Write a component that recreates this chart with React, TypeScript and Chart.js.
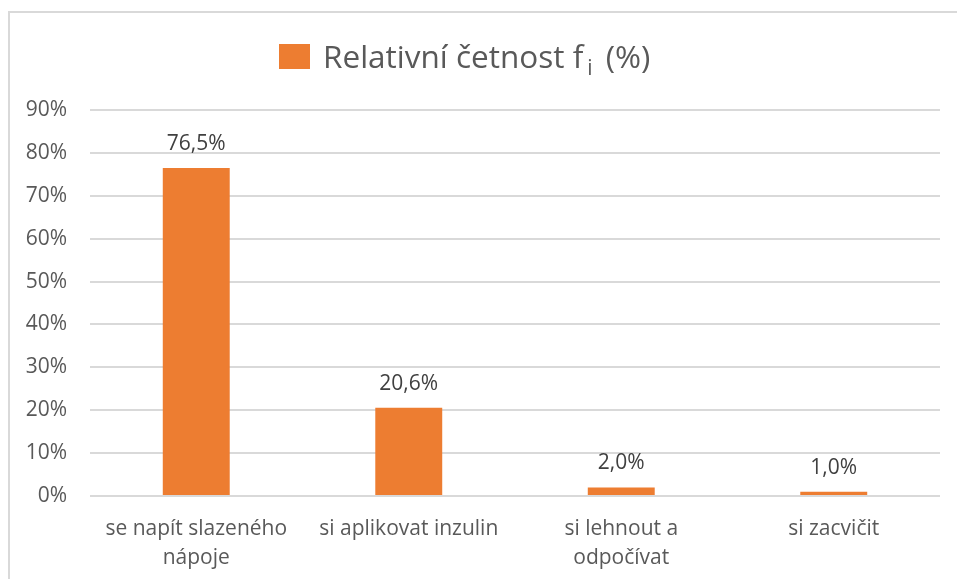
import React, { useEffect, useRef } from "react";
import { Chart, registerables } from "chart.js";

Chart.register(...registerables);

const categories: string[][] = [
  ["se napít slazeného", "nápoje"],
  ["si aplikovat inzulin"],
  ["si lehnout a", "odpočívat"],
  ["si zacvičit"],
];
const values: number[] = [76.5, 20.6, 2.0, 1.0];
const yTicks: number[] = [0, 10, 20, 30, 40, 50, 60, 70, 80, 90];
const seriesLabel = "Relativní četnost f";
const seriesSub = "i";
const seriesSuffix = " (%)";

const FONT = "'Open Sans', sans-serif";
const BAR = "#ED7D31";

const fmt = (v: number) => v.toFixed(1).replace(".", ",") + "%";

const labelsPlugin = {
  id: "barLabels",
  afterDatasetsDraw(chart: any) {
    const ctx = chart.ctx;
    const meta = chart.getDatasetMeta(0);
    ctx.save();
    ctx.font = `21px ${FONT}`;
    ctx.fillStyle = "#404040";
    ctx.textAlign = "center";
    ctx.textBaseline = "alphabetic";
    meta.data.forEach((el: any, i: number) => {
      ctx.fillText(fmt(values[i]), el.x, el.y - 18);
    });
    ctx.restore();
  },
};

const legendPlugin = {
  id: "customLegend",
  afterDraw(chart: any) {
    const ctx = chart.ctx;
    ctx.save();
    const sqX = 269, sqY = 31, sqW = 31, sqH = 25;
    ctx.fillStyle = BAR;
    ctx.fillRect(sqX, sqY, sqW, sqH);
    ctx.fillStyle = "#595959";
    ctx.textBaseline = "alphabetic";
    ctx.textAlign = "left";
    let x = 313;
    const base = 55;
    ctx.font = `31.5px ${FONT}`;
    ctx.fillText(seriesLabel, x, base);
    x += ctx.measureText(seriesLabel).width + 4;
    ctx.font = `21px ${FONT}`;
    ctx.fillText(seriesSub, x, base + 7);
    x += ctx.measureText(seriesSub).width + 5;
    ctx.font = `31.5px ${FONT}`;
    ctx.fillText(seriesSuffix, x, base);
    ctx.restore();
  },
};

export default function App() {
  const ref = useRef<HTMLCanvasElement | null>(null);
  useEffect(() => {
    document.body.style.margin = "0";
    document.body.style.overflow = "hidden";
    if (!ref.current) return;
    const chart = new Chart(ref.current, {
      type: "bar",
      data: {
        labels: categories,
        datasets: [
          {
            label: seriesLabel + seriesSub + seriesSuffix,
            data: values,
            backgroundColor: BAR,
            barPercentage: 0.315,
            categoryPercentage: 1,
          },
        ],
      },
      options: {
        animation: false,
        responsive: false,
        maintainAspectRatio: false,
        layout: { padding: { left: 0, right: 17, top: 97, bottom: 0 } },
        plugins: {
          legend: { display: false },
          tooltip: { enabled: false },
        },
        scales: {
          y: {
            min: 0,
            max: 90,
            afterBuildTicks: (scale: any) => {
              scale.ticks = yTicks.map((v) => ({ value: v }));
            },
            afterFit: (scale: any) => {
              scale.width = 80;
            },
            grid: { color: "#d9d9d9", lineWidth: 2, drawTicks: false },
            border: { display: false },
            ticks: {
              padding: 23,
              color: "#595959",
              font: { family: FONT, size: 21 },
              callback: (v: any) => v + "%",
            },
          },
          x: {
            afterFit: (scale: any) => {
              scale.height = 83;
            },
            grid: { display: false },
            border: { display: false },
            ticks: {
              padding: 11,
              color: "#595959",
              font: { family: FONT, size: 21, lineHeight: "29px" },
              maxRotation: 0,
              autoSkip: false,
            },
          },
        },
      },
      plugins: [labelsPlugin, legendPlugin],
    });
    return () => chart.destroy();
  }, []);
  return (
    <div
      style={{
        position: "absolute",
        left: 8,
        top: 11,
        width: 949,
        height: 568,
        borderLeft: "2px solid #d9d9d9",
        borderTop: "2px solid #d9d9d9",
        boxSizing: "border-box",
      }}
    >
      <canvas ref={ref} width={947} height={566} style={{ display: "block" }} />
    </div>
  );
}
